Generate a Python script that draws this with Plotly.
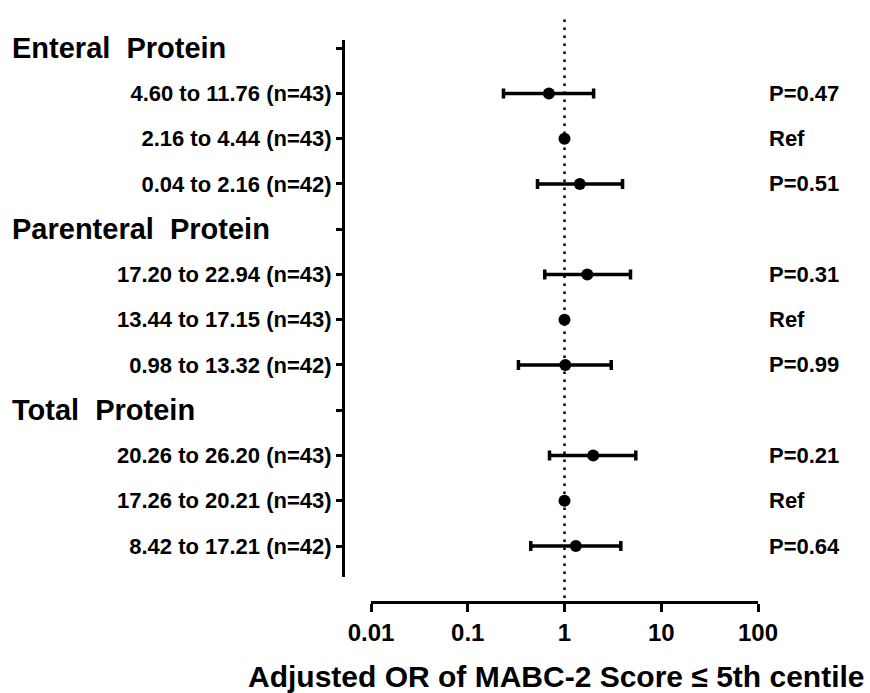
import plotly.graph_objects as go

# ---------------- data ----------------
group_names = ["Enteral  Protein", "Parenteral  Protein", "Total  Protein"]
row_labels = [
    "4.60 to 11.76 (n=43)", "2.16 to 4.44 (n=43)", "0.04 to 2.16 (n=42)",
    "17.20 to 22.94 (n=43)", "13.44 to 17.15 (n=43)", "0.98 to 13.32 (n=42)",
    "20.26 to 26.20 (n=43)", "17.26 to 20.21 (n=43)", "8.42 to 17.21 (n=42)",
]
odds_ratio = [0.69, 1.0, 1.44, 1.72, 1.0, 1.02, 1.98, 1.0, 1.31]
ci_low = [0.234, None, 0.526, 0.625, None, 0.334, 0.70, None, 0.448]
ci_high = [2.0, None, 3.98, 4.81, None, 3.04, 5.46, None, 3.82]
p_labels = ["P=0.47", "Ref", "P=0.51", "P=0.31", "Ref", "P=0.99",
            "P=0.21", "Ref", "P=0.64"]
x_tick_vals = [0.01, 0.1, 1, 10, 100]
x_tick_text = ["0.01", "0.1", "1", "10", "100"]
x_title = "Adjusted OR of MABC-2 Score ≤ 5th centile"

# ---------------- layout helpers ----------------
W, H = 870, 693
FONT = "Liberation Sans, Arial, Helvetica, sans-serif"

# y positions: group header then its 3 rows, from top (12) to bottom (1)
header_y = []
row_y = []
pos = 12
for g in range(len(group_names)):
    header_y.append(pos)
    pos -= 1
    for r in range(3):
        row_y.append(pos)
        pos -= 1

err_plus = [(h - o) if h is not None else None for o, h in zip(odds_ratio, ci_high)]
err_minus = [(o - l) if l is not None else None for o, l in zip(odds_ratio, ci_low)]

fig = go.Figure()
fig.add_trace(go.Scatter(
    x=odds_ratio, y=row_y, mode="markers",
    marker=dict(color="black", size=12),
    error_x=dict(type="data", symmetric=False, array=err_plus,
                 arrayminus=err_minus, color="black", thickness=3.5, width=5),
    showlegend=False, hoverinfo="skip", cliponaxis=False,
))

# vertical dotted reference line at OR = 1
fig.add_shape(type="line", xref="x", yref="paper", x0=1, x1=1,
              y0=1 - 598 / H, y1=1 - 16 / H,
              line=dict(color="black", width=2.5, dash="2.5px,5.5px"), layer="below")

annotations = []
for name, y in zip(group_names, header_y):
    annotations.append(dict(text=name, xref="paper", yref="y", x=10 / W, y=y,
                            xanchor="left", yanchor="middle", showarrow=False,
                            font=dict(family=FONT, size=29, color="black", weight="bold")))
for lab, y in zip(p_labels, row_y):
    annotations.append(dict(text=lab, xref="paper", yref="y", x=767 / W, y=y,
                            xanchor="left", yanchor="middle", showarrow=False,
                            font=dict(family=FONT, size=22, color="black", weight="bold")))
annotations.append(dict(text=x_title, xref="paper", yref="paper", x=556 / W,
                        y=1 - 676 / H, xanchor="center", yanchor="middle",
                        showarrow=False,
                        font=dict(family=FONT, size=30, color="black", weight="bold")))

tickvals_y = header_y + row_y
ticktext_y = [""] * len(header_y) + row_labels

fig.update_layout(
    width=W, height=H,
    margin=dict(l=0, r=0, t=0, b=0, autoexpand=False),
    paper_bgcolor="white", plot_bgcolor="white",
    annotations=annotations,
    xaxis=dict(
        type="log", range=[-2, 2], domain=[371 / W, 758 / W],
        anchor="free", position=1 - 602 / H,
        showgrid=False, zeroline=False, showline=True, linecolor="black", linewidth=3,
        ticks="outside", ticklen=8, tickwidth=2.5, tickcolor="black",
        tickvals=x_tick_vals, ticktext=x_tick_text,
        tickfont=dict(family=FONT, size=24, color="black", weight="bold"),
        automargin=False,
    ),
    yaxis=dict(
        range=[0.315, 12.18], domain=[1 - 577 / H, 1 - 40 / H],
        anchor="free", position=343 / W,
        showgrid=False, zeroline=False, showline=True, linecolor="black", linewidth=3,
        ticks="outside", ticklen=6, tickwidth=2.5, tickcolor="black",
        tickvals=tickvals_y, ticktext=ticktext_y,
        tickfont=dict(family=FONT, size=22, color="black", weight="bold"),
        automargin=False,
    ),
)

fig.write_html("out.html", config={"displayModeBar": False},
               post_script="document.body.style.margin='0';document.body.style.overflow='hidden';")
